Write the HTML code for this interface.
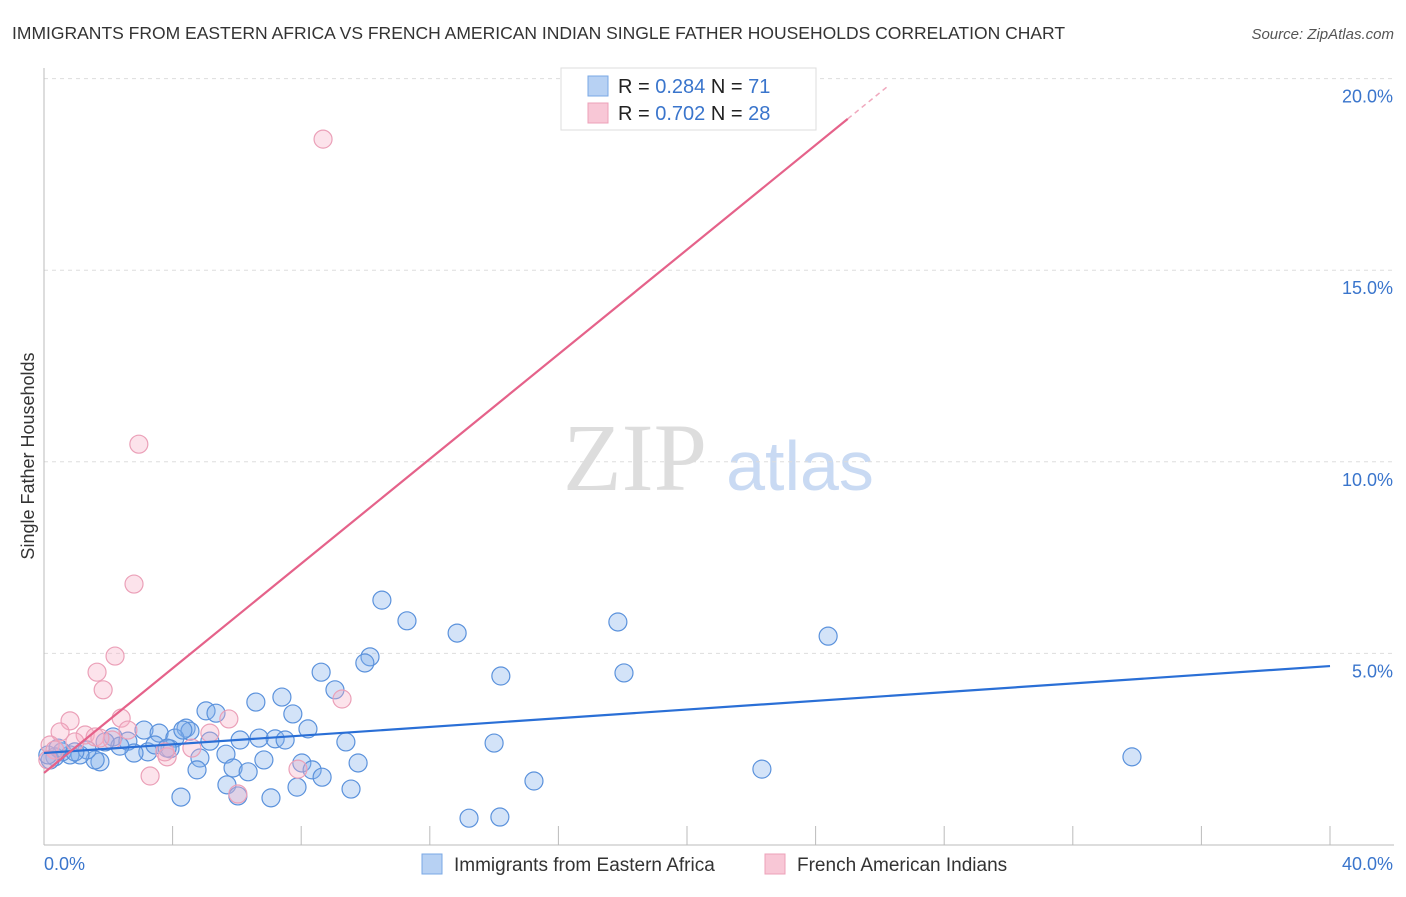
<!DOCTYPE html>
<html><head><meta charset="utf-8"><style>
body{margin:0;background:#fff;width:1406px;height:892px;overflow:hidden;font-family:"Liberation Sans",sans-serif}
</style></head><body>
<svg id="chart" width="1406" height="892" xmlns="http://www.w3.org/2000/svg" font-family="Liberation Sans, sans-serif">
<text x="12" y="39" font-size="17.5" fill="#333">IMMIGRANTS FROM EASTERN AFRICA VS FRENCH AMERICAN INDIAN SINGLE FATHER HOUSEHOLDS CORRELATION CHART</text>
<text x="1394" y="39" font-size="15" fill="#555" font-style="italic" text-anchor="end">Source: ZipAtlas.com</text>
<g>
<text x="635" y="490" font-size="96" font-family="Liberation Serif, serif" fill="#ddd" text-anchor="middle">ZIP</text>
<text x="800" y="490" font-size="70" fill="#c9daf3" text-anchor="middle">atlas</text>
</g>
<g id="grid"></g>
<g id="axes"></g>
<g id="pts"></g>
<g id="lines"></g>
<text transform="translate(34,456) rotate(-90)" font-size="18" fill="#333" text-anchor="middle">Single Father Households</text>
<g>
<rect x="561" y="68" width="255" height="62" fill="#fff" stroke="#ddd"/>
<rect x="588" y="76" width="20" height="20" fill="#b7d1f3" stroke="#7aa8e6"/>
<text x="618" y="93" font-size="20" fill="#222">R = <tspan fill="#3a75cc">0.284</tspan>   N =  <tspan fill="#3a75cc">71</tspan></text>
<rect x="588" y="103" width="20" height="20" fill="#f8c7d6" stroke="#eda0b8"/>
<text x="618" y="120" font-size="20" fill="#222">R = <tspan fill="#3a75cc">0.702</tspan>   N = <tspan fill="#3a75cc">28</tspan></text>
</g>
<g>
<rect x="422" y="854" width="20" height="20" fill="#b7d1f3" stroke="#7aa8e6"/>
<text x="454" y="871" font-size="19" fill="#333">Immigrants from Eastern Africa</text>
<rect x="765" y="854" width="20" height="20" fill="#f8c7d6" stroke="#eda0b8"/>
<text x="797" y="871" font-size="19" fill="#333">French American Indians</text>
</g>
</svg>
<script>
const blueX=[10.51,11.29,12.85,17.85,24.39,10.14,9.98,8.62,9.05,14.21,18.04,7.40,6.59,5.04,5.35,7.74,8.21,4.42,4.54,3.11,3.58,4.07,2.15,2.61,4.85,5.16,7.19,7.50,6.69,9.39,14.00,5.66,6.84,8.02,9.77,8.34,8.65,4.76,5.88,6.35,33.84,22.33,15.24,5.69,4.26,6.03,7.06,7.87,9.55,13.22,14.18,3.92,3.23,2.80,2.36,1.74,1.59,1.34,1.12,0.81,0.56,0.34,0.19,0.12,0.44,0.96,1.90,3.45,3.83,4.32,6.10];
const blueY=[6.39,5.85,5.53,5.82,5.45,4.91,4.75,4.51,4.05,4.41,4.49,3.86,3.73,3.50,3.44,3.42,3.03,3.05,2.97,3.00,2.92,2.79,2.82,2.71,2.27,2.71,2.77,2.74,2.79,2.69,2.66,2.37,2.22,2.14,2.14,1.96,1.77,1.96,2.01,1.91,2.30,1.98,1.67,1.57,1.25,1.28,1.23,1.51,1.46,0.70,0.73,2.51,2.43,2.40,2.58,2.17,2.22,2.48,2.35,2.35,2.43,2.30,2.22,2.35,2.53,2.43,2.69,2.61,2.53,3.00,2.74];
const pinkX=[23.67,8.68,2.95,2.80,2.21,1.65,1.84,0.81,2.40,5.75,9.27,5.16,2.61,0.50,1.28,1.59,2.12,3.83,4.60,3.30,7.90,6.03,0.19,0.34,0.12,3.76,1.74,0.96];
const pinkY=[19.96,18.42,10.46,6.81,4.93,4.51,4.05,3.24,3.31,3.29,3.81,2.92,3.00,2.95,2.87,2.82,2.74,2.30,2.53,1.80,1.98,1.33,2.61,2.48,2.22,2.43,2.79,2.69];
const blueLine=[0,2.40,40,4.67];
const pinkLine=[0,1.88,25.0,18.95,26.3];
const yTicks=[5,10,15,20];
const yTickLabels=["5.0%","10.0%","15.0%","20.0%"];
const xTicks=[0,4,8,12,16,20,24,28,32,36,40];
const NS="http://www.w3.org/2000/svg";
const X=v=>44+v*1286/40, Y=v=>845-v*191.6/5;
function mk(tag,attrs,parent){const e=document.createElementNS(NS,tag);for(const k in attrs)e.setAttribute(k,attrs[k]);document.getElementById(parent).appendChild(e);return e;}
yTicks.forEach((t,i)=>{
 const g=mk('line',{x1:44,x2:1394,y1:Y(t),y2:Y(t),stroke:'#ddd','stroke-dasharray':'4,4'},'grid');
 
 
 const l=mk('text',{x:1393,y:Y(t)+24,'font-size':18,fill:'#3a75cc','text-anchor':'end'},'grid');
 l.textContent=yTickLabels[i];
 
 
});
const ax=mk('line',{x1:44,x2:44,y1:68,y2:845,stroke:'#bbb'},'axes');


const bx=mk('line',{x1:44,x2:1394,y1:845,y2:845,stroke:'#bbb'},'axes');


xTicks.forEach(t=>{
 const k=mk('line',{x1:X(t),x2:X(t),y1:826,y2:845,stroke:'#bbb'},'axes');
 
 
});
const xl0=mk('text',{x:44,y:870,'font-size':18,fill:'#3a75cc'},'axes');xl0.textContent='0.0%';


const xl1=mk('text',{x:1393,y:870,'font-size':18,fill:'#3a75cc','text-anchor':'end'},'axes');xl1.textContent='40.0%';


blueX.forEach((v,i)=>{
 const c=mk('circle',{cx:X(v),cy:Y(blueY[i]),r:9,fill:'rgba(130,175,235,0.35)',stroke:'#5b92dc','stroke-width':1.2},'pts');
 
 
});
pinkX.forEach((v,i)=>{
 const c=mk('circle',{cx:X(v),cy:Y(pinkY[i]),r:9,fill:'rgba(245,175,198,0.35)',stroke:'#eba0b8','stroke-width':1.2},'pts');
 
 
});
const bl=mk('line',{x1:X(blueLine[0]),y1:Y(blueLine[1]),x2:X(blueLine[2]),y2:Y(blueLine[3]),stroke:'#2a6fd6','stroke-width':2.2},'lines');


const slope=(pinkLine[3]-pinkLine[1])/(pinkLine[2]-pinkLine[0]);
const pl=mk('line',{x1:X(pinkLine[0]),y1:Y(pinkLine[1]),x2:X(pinkLine[2]),y2:Y(pinkLine[3]),stroke:'#e5628a','stroke-width':2.2},'lines');


const pd=mk('line',{x1:X(pinkLine[2]),y1:Y(pinkLine[3]),x2:X(pinkLine[4]),y2:Y(pinkLine[1]+slope*pinkLine[4]),stroke:'#f0a8bd','stroke-width':1.5,'stroke-dasharray':'5,4'},'lines');


</script>
</body></html>
